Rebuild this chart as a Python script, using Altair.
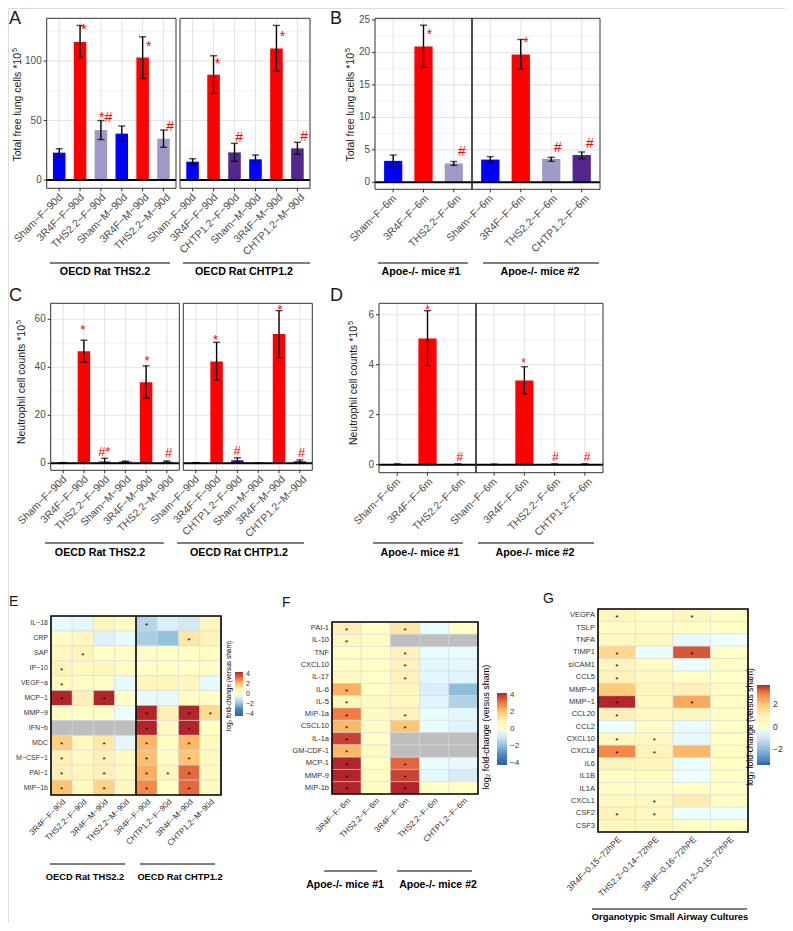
import altair as alt
import pandas as pd

# ======================= DATA =======================
# Panel A - Total free lung cells *10^5 (OECD rat studies)
A1_cats = ["Sham−F−90d", "3R4F−F−90d", "THS2.2−F−90d", "Sham−M−90d", "3R4F−M−90d", "THS2.2−M−90d"]
A1_vals = [23.0, 116.0, 42.0, 39.0, 103.0, 34.7]
A1_lo = [19.6, 103.0, 34.0, 32.5, 85.4, 27.5]
A1_hi = [26.3, 130.0, 50.0, 45.4, 120.4, 42.0]
A1_ann = ["", "*", "*#", "", "*", "#"]
A1_ann_y = [None, 128.3, 52.5, None, 114.8, 44.8]

A2_cats = ["Sham−F−90d", "3R4F−F−90d", "CHTP1.2−F−90d", "Sham−M−90d", "3R4F−M−90d", "CHTP1.2−M−90d"]
A2_vals = [15.4, 88.5, 23.2, 17.4, 110.6, 26.6]
A2_lo = [12.9, 72.8, 15.7, 14.0, 91.6, 21.6]
A2_hi = [17.9, 104.5, 30.8, 21.0, 130.0, 31.7]
A2_ann = ["", "*", "#", "", "*", "#"]
A2_ann_y = [None, 100.3, 35.0, None, 122.7, 36.4]

# Panel B - Total free lung cells *10^5 (Apoe-/- mice)
B1_cats = ["Sham−F−6m", "3R4F−F−6m", "THS2.2−F−6m"]
B1_vals = [3.3, 20.9, 2.9]
B1_lo = [2.4, 17.7, 2.6]
B1_hi = [4.2, 24.2, 3.2]
B1_ann = ["", "*", "#"]
B1_ann_y = [None, 23.1, 4.6]

B2_cats = ["Sham−F−6m", "3R4F−F−6m", "THS2.2−F−6m", "CHTP1.2−F−6m"]
B2_vals = [3.5, 19.7, 3.6, 4.2]
B2_lo = [3.0, 17.4, 3.23, 3.64]
B2_hi = [3.95, 22.0, 3.85, 4.67]
B2_ann = ["", "*", "#", "#"]
B2_ann_y = [None, 21.9, 5.3, 5.9]

# Panel C - Neutrophil cell counts *10^5 (OECD rat studies)
C1_vals = [0.2, 46.7, 1.0, 0.7, 33.8, 0.7]
C1_lo = [0.1, 42.1, 0.2, 0.5, 27.1, 0.4]
C1_hi = [0.3, 51.3, 2.1, 0.9, 40.6, 1.0]
C1_ann = ["", "*", "#*", "", "*", "#"]
C1_ann_y = [None, 56.9, 4.9, None, 43.8, 4.4]

C2_vals = [0.2, 42.4, 1.3, 0.1, 53.9, 0.8]
C2_lo = [0.1, 34.7, 0.5, 0.05, 44.0, 0.3]
C2_hi = [0.3, 50.4, 2.3, 0.15, 63.6, 1.4]
C2_ann = ["", "*", "#", "", "*", "#"]
C2_ann_y = [None, 52.8, 5.3, None, 65.3, 4.4]

# Panel D - Neutrophil cell counts *10^5 (Apoe-/- mice)
D1_vals = [0.02, 5.05, 0.02]
D1_lo = [0.01, 3.97, 0.01]
D1_hi = [0.03, 6.16, 0.03]
D1_ann = ["", "*", "#"]
D1_ann_y = [None, 6.29, 0.32]

D2_vals = [0.01, 3.37, 0.02, 0.02]
D2_lo = [0.005, 2.83, 0.01, 0.01]
D2_hi = [0.02, 3.92, 0.03, 0.03]
D2_ann = ["", "*", "#", "#"]
D2_ann_y = [None, 4.19, 0.32, 0.32]

A_ticks = [0, 50, 100]
A_minor = [25, 75, 125]
B_ticks = [0, 5, 10, 15, 20, 25]
B_minor = [2.5, 7.5, 12.5, 17.5, 22.5]
C_ticks = [0, 20, 40, 60]
C_minor = [10, 30, 50]
D_ticks = [0, 2, 4, 6]
D_minor = [1, 3, 5]

# Panel E - log2 fold-change heatmap (rat)
E_rows = ["IL−18", "CRP", "SAP", "IP−10", "VEGF−a", "MCP−1", "MMP−9", "IFN−b", "MDC", "M−CSF−1", "PAI−1", "MIP−1b"]
E_cols = ["3R4F−F−90d", "THS2.2−F−90d", "3R4F−M−90d", "THS2.2−M−90d",
          "3R4F−F−90d", "CHTP1.2−F−90d", "3R4F−M−90d", "CHTP1.2−M−90d"]
E_vals = [
    [-0.3, -0.4, 0.6, 0.2, -1.4, -0.7, -0.9, 0.6],
    [0.1, 0.5, -0.6, -0.3, -1.6, -1.9, 1.2, 0.8],
    [0.4, 0.7, 0.0, 0.1, 0.1, 0.0, 0.0, 0.2],
    [0.8, 0.4, 0.6, 0.2, 0.0, 0.0, 0.0, 0.1],
    [0.3, 0.1, 0.1, -0.3, 0.7, 0.6, 0.5, -0.3],
    [4.5, 1.0, 4.5, 0.0, -0.3, -0.3, 0.2, 0.1],
    [0.0, 0.0, 0.0, -0.1, 4.5, 1.0, 4.5, 1.5],
    [None, None, None, None, 4.5, 0.3, 4.5, 0.0],
    [1.8, 0.4, 1.2, -0.4, 2.2, 0.2, 2.2, 0.3],
    [1.0, 0.3, 1.0, 0.3, 2.1, 0.2, 2.0, 0.3],
    [1.0, 0.6, 1.0, 0.3, 2.3, 0.6, 3.3, 0.3],
    [2.0, 0.3, 1.7, 0.5, 2.8, 0.0, 3.3, 0.3],
]
E_stars = [
    [0, 0, 0, 0, 1, 0, 0, 0],
    [0, 0, 0, 0, 0, 0, 1, 0],
    [0, 1, 0, 0, 0, 0, 0, 0],
    [1, 0, 0, 0, 0, 0, 0, 0],
    [1, 0, 0, 0, 0, 0, 0, 0],
    [1, 0, 1, 0, 0, 0, 0, 0],
    [0, 0, 0, 0, 1, 0, 1, 1],
    [0, 0, 0, 0, 1, 0, 1, 0],
    [1, 0, 1, 0, 1, 0, 1, 0],
    [1, 0, 1, 0, 1, 0, 1, 0],
    [1, 0, 1, 0, 1, 1, 1, 0],
    [1, 0, 1, 0, 1, 0, 1, 0],
]

# Panel F - log2 fold-change heatmap (mice)
F_rows = ["PAI-1", "IL-10", "TNF", "CXCL10", "IL-17", "IL-6", "IL-5", "MIP-1a", "CSCL10",
          "IL-1a", "GM-CDF-1", "MCP-1", "MMP-9", "MIP-1b"]
F_cols = ["3R4F−F−6m", "THS2.2−F−6m", "3R4F−F−6m", "THS2.2−F−6m", "CHTP1.2−F−6m"]
F_vals = [
    [1.0, 0.0, 1.2, -0.2, 0.0],
    [0.5, 0.2, None, None, None],
    [0.0, 0.0, 0.8, -0.2, -0.2],
    [0.1, 0.0, 0.8, -0.4, -0.4],
    [0.3, 0.0, 0.8, -0.4, -0.5],
    [2.3, 0.0, 0.6, -0.7, -2.0],
    [0.6, 0.3, 0.3, -0.5, -1.5],
    [3.0, 0.2, 0.8, -0.2, -0.4],
    [2.2, 0.1, 2.0, -0.2, -0.5],
    [3.8, 0.0, None, None, None],
    [2.2, 0.3, None, None, None],
    [4.5, 0.0, 3.3, -0.2, -0.3],
    [4.5, 0.2, 3.8, -0.4, -0.8],
    [4.5, 0.2, 4.2, 0.0, 0.0],
]
F_stars = [
    [1, 0, 1, 0, 0],
    [1, 0, 0, 0, 0],
    [0, 0, 1, 0, 0],
    [0, 0, 1, 0, 0],
    [0, 0, 1, 0, 0],
    [1, 0, 0, 0, 0],
    [1, 0, 0, 0, 0],
    [1, 0, 1, 0, 0],
    [1, 0, 1, 0, 0],
    [1, 0, 0, 0, 0],
    [1, 0, 0, 0, 0],
    [1, 0, 1, 0, 0],
    [1, 0, 1, 0, 0],
    [1, 0, 1, 0, 0],
]

# Panel G - log2 fold-change heatmap (organotypic small airway cultures)
G_rows = ["VEGFA", "TSLP", "TNFA", "TIMP1", "sICAM1", "CCL5", "MMP−9", "MMP−1", "CCL20", "CCL2",
          "CXCL10", "CXCL8", "IL6", "IL1B", "IL1A", "CXCL1", "CSF2", "CSF3"]
G_cols = ["3R4F−0.15−72hPE", "THS2.2−0.14−72hPE", "3R4F−0.16−72hPE", "CHTP1.2−0.15−72hPE"]
G_vals = [
    [0.6, 0.0, 0.6, 0.0],
    [0.1, 0.1, 0.1, 0.0],
    [0.5, 0.4, -0.3, -0.1],
    [1.6, -0.2, 3.3, 0.0],
    [0.7, 0.2, -0.1, 0.0],
    [0.8, 0.3, 0.0, 0.0],
    [1.9, 0.6, 1.0, 0.1],
    [3.7, 0.3, 2.4, 0.2],
    [0.9, 0.3, 0.5, 0.1],
    [-0.1, 0.1, -0.3, 0.0],
    [0.4, 0.4, -0.3, 0.0],
    [2.8, 0.8, 2.2, 0.2],
    [0.7, 0.6, -0.1, 0.0],
    [0.1, 0.2, -0.1, 0.0],
    [0.1, 0.1, 0.0, 0.0],
    [0.4, 0.5, 1.1, 0.1],
    [0.7, 0.4, -0.1, -0.1],
    [0.5, 0.4, 0.0, 0.0],
]
G_stars = [
    [1, 0, 1, 0], [0, 0, 0, 0], [0, 0, 0, 0], [1, 0, 1, 0], [1, 0, 0, 0], [1, 0, 0, 0],
    [0, 0, 0, 0], [1, 0, 1, 0], [1, 0, 0, 0], [0, 0, 0, 0], [1, 1, 0, 0], [1, 1, 0, 0],
    [0, 0, 0, 0], [0, 0, 0, 0], [0, 0, 0, 0], [0, 1, 0, 0], [1, 1, 0, 0], [0, 0, 0, 0],
]

# ======================= STYLE / LAYOUT =======================
M = 8  # page margin: image px -> canvas px


def p(v):
    return v - M


FONT = "Liberation Sans"
TXT = "#4D4D4D"
PROD_DOMAIN = ["Sham", "3R4F", "THS2.2", "CHTP1.2"]
PROD_RANGE = ["#0000FF", "#FF0000", "#9E9AC8", "#54278F"]
HEAT = ["#2D5E9E", "#4B87BF", "#8DBDDC", "#D2E6F1", "#FFFFFF", "#FEF0B8", "#FDC676", "#F07A45", "#B2262B"]

layers = []


def one():
    return pd.DataFrame({"z": [0]})


def vtext(text, x, y, size, angle=0, weight="normal", color="black", align="center", baseline="middle"):
    return alt.Chart(one()).mark_text(text=text, fontSize=size, angle=angle, fontWeight=weight, color=color,
                                      align=align, baseline=baseline, font=FONT).encode(
        x=alt.value(p(x)), y=alt.value(p(y)))


def ytitle(text, x, y_start, size):
    # rotated axis title ending at y_start (top end), followed by a superscript "5"
    return [vtext(text, x, y_start, size, angle=270, align="right", color="#1A1A1A"),
            vtext("5", x - 3.5, y_start - 1, size * 0.68, angle=270, align="left", color="#1A1A1A")]


def hline(x0, x1, y, color="black", w=1.0):
    return alt.Chart(one()).mark_rule(color=color, strokeWidth=w).encode(
        x=alt.value(p(x0)), x2=alt.value(p(x1)), y=alt.value(p(y)))


def vline(x, y0, y1, color="black", w=1.0):
    return alt.Chart(one()).mark_rule(color=color, strokeWidth=w).encode(
        x=alt.value(p(x)), y=alt.value(p(y0)), y2=alt.value(p(y1)))


def frame(x0, x1, y0, y1, color="#333333", w=1.0):
    return alt.Chart(one()).mark_rect(fillOpacity=0, stroke=color, strokeWidth=w).encode(
        x=alt.value(p(x0)), x2=alt.value(p(x1)), y=alt.value(p(y0)), y2=alt.value(p(y1)))


def bar_facet(cats, vals, lo, hi, ann, ann_y, box, ydom, ticks, minor, ann_dx, ann_fs, yaxis):
    x0, x1, y0, y1 = box
    df = pd.DataFrame({"cat": cats, "val": vals, "lo": lo, "hi": hi, "ann": ann, "ann_y": ann_y})
    df["prod"] = [c.split("−")[0] for c in cats]
    df["zero"] = 0.0
    xs = alt.Scale(domain=cats, range=[p(x0), p(x1)], paddingInner=0.4, paddingOuter=0.3)
    ys = alt.Scale(domain=ydom, range=[p(y1), p(y0)], nice=False, zero=False)
    X = alt.X("cat:N", scale=xs, axis=None)

    def Yq(f):
        return alt.Y(f, scale=ys, axis=None)

    gmin = pd.DataFrame({"v": minor})
    gmaj = pd.DataFrame({"v": ticks})
    out = [
        alt.Chart(gmin).mark_rule(color="#EBEBEB", strokeWidth=0.6).encode(
            y=Yq("v:Q"), x=alt.value(p(x0)), x2=alt.value(p(x1))),
        alt.Chart(gmaj).mark_rule(color="#E5E5E5", strokeWidth=1.1).encode(
            y=Yq("v:Q"), x=alt.value(p(x0)), x2=alt.value(p(x1))),
        alt.Chart(df).mark_rule(color="#E5E5E5", strokeWidth=1.1).encode(
            x=X, y=alt.value(p(y0)), y2=alt.value(p(y1))),
        alt.Chart(df).mark_bar().encode(
            x=X, y=Yq("val:Q"), y2="zero:Q",
            color=alt.Color("prod:N", scale=alt.Scale(domain=PROD_DOMAIN, range=PROD_RANGE), legend=None)),
        alt.Chart(df).mark_rule(color="black", strokeWidth=1.4).encode(x=X, y=Yq("lo:Q"), y2="hi:Q"),
        alt.Chart(df).mark_tick(color="black", thickness=1.4, size=7).encode(x=X, y=Yq("lo:Q")),
        alt.Chart(df).mark_tick(color="black", thickness=1.4, size=7).encode(x=X, y=Yq("hi:Q")),
        alt.Chart(one()).mark_rule(color="black", strokeWidth=2).encode(
            y=Yq("z:Q"), x=alt.value(p(x0)), x2=alt.value(p(x1))),
        alt.Chart(df).transform_filter("datum.ann == '*'").mark_text(
            color="red", fontSize=ann_fs, dx=ann_dx, dy=3, baseline="middle", font=FONT).encode(
            x=X, y=Yq("ann_y:Q"), text="ann:N"),
        alt.Chart(df).transform_filter("datum.ann != '*' && datum.ann != ''").mark_text(
            color="red", fontSize=ann_fs, dx=ann_dx, baseline="middle", font=FONT).encode(
            x=X, y=Yq("ann_y:Q"), text="ann:N"),
        alt.Chart(df).mark_rule(color="#333333", strokeWidth=1).encode(
            x=X, y=alt.value(p(y1)), y2=alt.value(p(y1 + 3))),
        alt.Chart(df).mark_text(angle=315, align="right", baseline="top", fontSize=10.5, color=TXT,
                                font=FONT).encode(x=X, y=alt.value(p(y1 + 4)), text="cat:N"),
    ]
    if yaxis:
        out += [
            alt.Chart(gmaj).mark_rule(color="#333333", strokeWidth=1).encode(
                y=Yq("v:Q"), x=alt.value(p(x0 - 3)), x2=alt.value(p(x0))),
            alt.Chart(gmaj).mark_text(align="right", baseline="middle", fontSize=10, color=TXT,
                                      font=FONT).encode(y=Yq("v:Q"), x=alt.value(p(x0 - 5)), text="v:Q"),
        ]
    return out


def heatmap(rows, cols, vals, stars, box, cdom, leg, row_fs, col_fs, star_fs, dividers):
    x0, x1, y0, y1 = box
    recs = []
    for ri, rv in enumerate(vals):
        for ci, v in enumerate(rv):
            recs.append({"r": ri, "c": ci, "v": v, "s": stars[ri][ci]})
    df = pd.DataFrame(recs)
    nr, nc = len(rows), len(cols)
    xs = alt.Scale(domain=list(range(nc)), range=[p(x0), p(x1)], paddingInner=0, paddingOuter=0)
    ys = alt.Scale(domain=list(range(nr)), range=[p(y0), p(y1)], paddingInner=0, paddingOuter=0)
    X = alt.X("c:O", scale=xs, axis=None)
    Y = alt.Y("r:O", scale=ys, axis=None)
    lo, hi = cdom
    cs = alt.Scale(domain=[lo, -3, -2, -1, 0, 1, 2, 3, hi], range=HEAT, clamp=True)
    bx, by, blen, bthick, bvals, bfs = leg
    legend = alt.Legend(orient="none", legendX=p(bx), legendY=p(by), direction="vertical",
                        gradientLength=blen, gradientThickness=bthick, title=None, values=bvals,
                        labelFontSize=bfs, labelFont=FONT, labelColor="#333333", labelOffset=3,
                        gradientStrokeWidth=0, labelOverlap=False)
    rdf = pd.DataFrame({"r": list(range(nr)), "lab": rows})
    cdf = pd.DataFrame({"c": list(range(nc)), "lab": cols})
    out = [
        alt.Chart(df).transform_filter("isValid(datum.v)").mark_rect(stroke="#D6D6D6", strokeWidth=0.5).encode(
            x=X, y=Y, color=alt.Color("v:Q", scale=cs, legend=legend)),
        alt.Chart(df).transform_filter("!isValid(datum.v)").mark_rect(
            color="#BEBEBE", stroke="#D6D6D6", strokeWidth=0.5).encode(x=X, y=Y),
        alt.Chart(df).transform_filter("datum.s == 1").mark_text(
            text="*", fontSize=star_fs, color="black", baseline="middle", dy=star_fs * 0.3, font=FONT).encode(x=X, y=Y),
        alt.Chart(rdf).mark_text(align="right", baseline="middle", fontSize=row_fs, color="#333333",
                                 font=FONT).encode(y=Y, x=alt.value(p(x0 - 3)), text="lab:N"),
        alt.Chart(cdf).mark_text(angle=315, align="right", baseline="top", fontSize=col_fs, color="#333333",
                                 font=FONT).encode(x=X, y=alt.value(p(y1 + 3)), text="lab:N"),
        frame(x0, x1, y0, y1, color="black", w=1.6),
    ]
    for dx in dividers:
        out.append(vline(dx, y0, y1, "black", 1.6))
    return out


# ---------------- Panel A ----------------
A_dom = [-7.0, 136.0]
layers += bar_facet(A1_cats, A1_vals, A1_lo, A1_hi, A1_ann, A1_ann_y, (46.7, 176, 18.3, 188.3), A_dom,
                    A_ticks, A_minor, 5, 14, True)
layers += bar_facet(A2_cats, A2_vals, A2_lo, A2_hi, A2_ann, A2_ann_y, (180, 310, 18.3, 188.3), A_dom,
                    A_ticks, A_minor, 5, 14, False)
layers += [frame(46.7, 176, 18.3, 188.3), frame(180, 310, 18.3, 188.3)]
layers += ytitle("Total free lung cells *10", 18, 53, 10.5)
layers += [hline(50, 170, 263), hline(183, 310, 263),
           vtext("OECD Rat THS2.2", 105, 272, 10.7, weight="bold"),
           vtext("OECD Rat CHTP1.2", 244, 272, 10.7, weight="bold")]

# ---------------- Panel B ----------------
B_dom = [-1.08, 25.26]
layers += bar_facet(B1_cats, B1_vals, B1_lo, B1_hi, B1_ann, B1_ann_y, (375, 472, 18.3, 189.3), B_dom,
                    B_ticks, B_minor, 6, 14, True)
layers += bar_facet(B2_cats, B2_vals, B2_lo, B2_hi, B2_ann, B2_ann_y, (472, 600, 18.3, 189.3), B_dom,
                    B_ticks, B_minor, 6, 14, False)
layers += [frame(375, 600, 18.3, 189.3), vline(472, 18.3, 189.3, "#222222", 1.6)]
layers += ytitle("Total free lung cells *10", 351, 53, 10.5)
layers += [hline(378, 468, 263), hline(483, 599, 263),
           vtext("Apoe-/- mice #1", 421, 272, 10.7, weight="bold"),
           vtext("Apoe-/- mice #2", 540, 272, 10.7, weight="bold")]

# ---------------- Panel C ----------------
C_dom = [-2.92, 66.67]
layers += bar_facet(A1_cats, C1_vals, C1_lo, C1_hi, C1_ann, C1_ann_y, (50.7, 179.3, 303.3, 470.3), C_dom,
                    C_ticks, C_minor, 0, 13, True)
layers += bar_facet(A2_cats, C2_vals, C2_lo, C2_hi, C2_ann, C2_ann_y, (183.3, 312.3, 303.3, 470.3), C_dom,
                    C_ticks, C_minor, 0, 13, False)
layers += [frame(50.7, 179.3, 303.3, 470.3), frame(183.3, 312.3, 303.3, 470.3)]
layers += ytitle("Neutrophil cell counts *10", 22, 325, 10.5)
layers += [hline(45, 164, 543), hline(177, 304, 543),
           vtext("OECD Rat THS2.2", 100, 553, 10.7, weight="bold"),
           vtext("OECD Rat CHTP1.2", 239, 553, 10.7, weight="bold")]

# ---------------- Panel D ----------------
D_dom = [-0.321, 6.457]
layers += bar_facet(B1_cats, D1_vals, D1_lo, D1_hi, D1_ann, D1_ann_y, (379, 476, 303.3, 472.7), D_dom,
                    D_ticks, D_minor, 0, 12, True)
layers += bar_facet(B2_cats, D2_vals, D2_lo, D2_hi, D2_ann, D2_ann_y, (476, 603, 303.3, 472.7), D_dom,
                    D_ticks, D_minor, 0, 12, False)
layers += [frame(379, 603, 303.3, 472.7), vline(476, 303.3, 472.7, "#222222", 1.6)]
layers += ytitle("Neutrophil cell counts *10", 354, 326, 10.5)
layers += [hline(373, 463, 543), hline(478, 594, 543),
           vtext("Apoe-/- mice #1", 420, 553, 10.7, weight="bold"),
           vtext("Apoe-/- mice #2", 535, 553, 10.7, weight="bold")]

# ---------------- Panel E ----------------
layers += heatmap(E_rows, E_cols, E_vals, E_stars, (51, 221, 616, 795), (-4.4, 4.4),
                  (235, 672, 44, 8, [-4, -2, 0, 2, 4], 7), 7, 8, 8, [136])
layers += [vtext("log₂ fold-change (versus sham)", 229, 686, 6.5, angle=270)]
layers += [hline(50, 125, 864), hline(140, 215, 864),
           vtext("OECD Rat THS2.2", 85, 877, 9.3, weight="bold"),
           vtext("OECD Rat CHTP1.2", 180, 877, 9.3, weight="bold")]

# ---------------- Panel F ----------------
layers += heatmap(F_rows, F_cols, F_vals, F_stars, (332, 478, 622, 794), (-4.2, 4.2),
                  (497, 693, 72, 10, [-4, -2, 0, 2, 4], 8), 7.5, 8, 8, [])
layers += [vtext("log₂ fold-change (versus sham)", 486, 727, 9, angle=270)]
layers += [hline(324, 377, 871), hline(397, 472, 871),
           vtext("Apoe-/- mice #1", 345, 885, 10.5, weight="bold"),
           vtext("Apoe-/- mice #2", 438, 885, 10.5, weight="bold")]

# ---------------- Panel G ----------------
layers += heatmap(G_rows, G_cols, G_vals, G_stars, (598, 748, 609, 832), (-3.4, 3.7),
                  (757, 685, 80, 13, [-2, 0, 2], 8.5), 7.5, 8.5, 8, [])
layers += [vtext("log₂ fold-change (versus sham)", 750, 727, 8.5, angle=270)]
layers += [hline(592, 747, 909), vtext("Organotypic Small Airway Cultures", 670, 917, 9.4, weight="bold")]

# ---------------- Panel letters ----------------
for lab, x, y, s in [("A", 9, 10, 18), ("B", 330, 10, 18), ("C", 9, 287, 18), ("D", 330, 287, 18),
                     ("E", 9, 595, 14), ("F", 282, 596, 14), ("G", 543, 592, 14)]:
    layers.append(vtext(lab, x, y, s, align="left", baseline="top", color="#1A1A1A"))

chart = alt.layer(*layers).properties(
    width=777, height=915, padding=0, autosize="none"
).resolve_scale(
    x="independent", y="independent", color="independent"
).resolve_legend(color="independent").configure_view(stroke=None).configure(font=FONT)

chart.save("out.html", embed_options={"renderer": "svg", "actions": False})
